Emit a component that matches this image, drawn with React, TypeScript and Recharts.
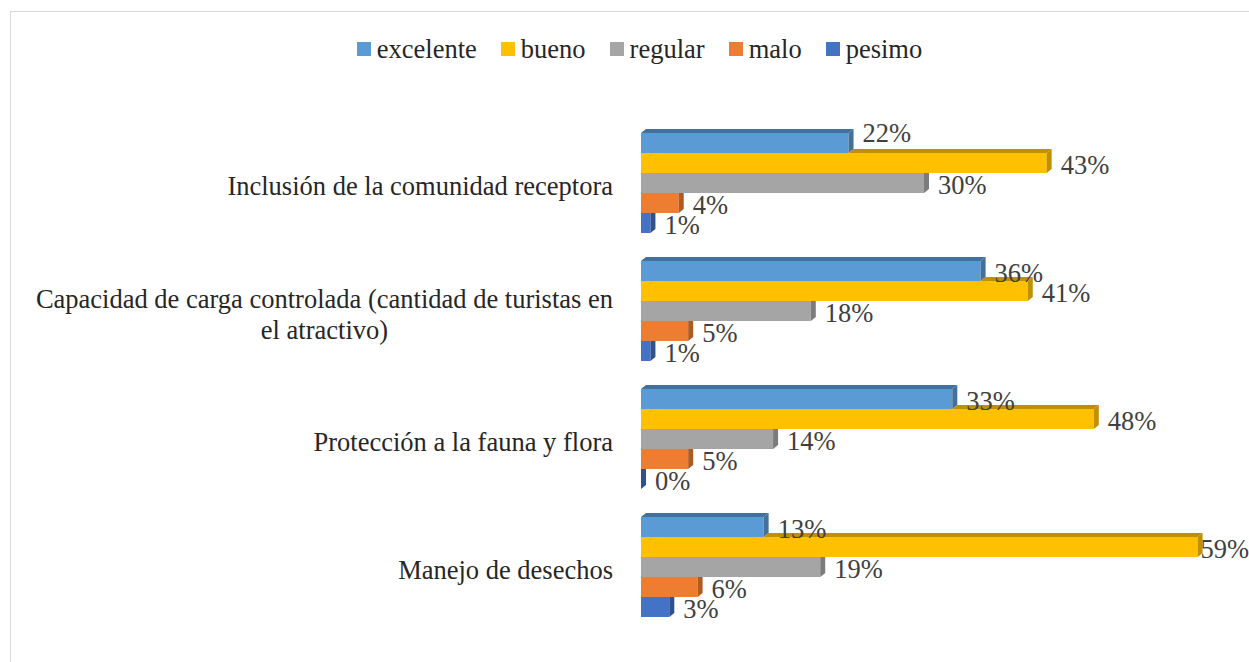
import React from 'react';
import { BarChart, Bar, XAxis, YAxis, Legend, LabelList } from 'recharts';

const categories = [
  'Inclusión de la comunidad receptora',
  'Capacidad de carga controlada (cantidad de turistas en el atractivo)',
  'Protección a la fauna y flora',
  'Manejo de desechos',
];
const excelente = [22, 36, 33, 13];
const bueno = [43, 41, 48, 59];
const regular = [30, 18, 14, 19];
const malo = [4, 5, 5, 6];
const pesimo = [1, 1, 0, 3];

const SERIES = [
  { key: 'excelente', values: excelente, color: '#5B9BD5', dark: '#41719C' },
  { key: 'bueno', values: bueno, color: '#FFC000', dark: '#BF9000' },
  { key: 'regular', values: regular, color: '#A5A5A5', dark: '#7C7C7C' },
  { key: 'malo', values: malo, color: '#ED7D31', dark: '#AE5A21' },
  { key: 'pesimo', values: pesimo, color: '#4472C4', dark: '#2F528F' },
];

const data = categories.map((name, i) => {
  const row: any = { name };
  SERIES.forEach((s) => (row[s.key] = s.values[i]));
  return row;
});

const W = 1249;
const H = 662;
const PLOT_LEFT = 641;
const MARGIN = { top: 78, right: 42, bottom: 32, left: 0 };
const X_MAX = 60;
const PX_PER_UNIT = (W - PLOT_LEFT - MARGIN.right) / X_MAX;
const DX = 5;
const DY = 4;
const FONT = '"Liberation Serif", "Times New Roman", serif';
const FS = 26.5;

let ctx: CanvasRenderingContext2D | null = null;
const measure = (t: string) => {
  if (!ctx) {
    ctx = document.createElement('canvas').getContext('2d');
    if (ctx) ctx.font = `${FS}px "Liberation Serif"`;
  }
  return ctx ? ctx.measureText(t).width : t.length * FS * 0.45;
};

const wrap = (text: string, maxW: number) => {
  const words = text.split(' ');
  const lines: string[] = [];
  let cur = '';
  words.forEach((w) => {
    const next = cur ? cur + ' ' + w : w;
    if (cur && measure(next) > maxW) {
      lines.push(cur);
      cur = w;
    } else cur = next;
  });
  if (cur) lines.push(cur);
  return lines;
};

const CategoryTick = ({ x, y, payload }: any) => {
  const lines = wrap(payload.value, 595);
  const blockW = Math.max(...lines.map(measure));
  const cx = x - blockW / 2;
  const lh = 31;
  const y0 = y - ((lines.length - 1) * lh) / 2 + 4;
  return (
    <text x={cx} y={y0} textAnchor="middle" dominantBaseline="central" fill="#262626" fontSize={FS} fontFamily={FONT}>
      {lines.map((l, i) => (
        <tspan key={i} x={cx} y={y0 + i * lh}>{l}</tspan>
      ))}
    </text>
  );
};

// bar face plus a small extruded top and side, hidden where the bar above covers it
const makeShape = (i: number) => (props: any) => {
  const { x, y, width, height, payload } = props;
  const s = SERIES[i];
  const w = Math.max(width || 0, 0);
  const wPrev = i > 0 ? payload[SERIES[i - 1].key] * PX_PER_UNIT : 0;
  const right = x + w;
  const side =
    wPrev > w
      ? `${right},${y} ${right + DX},${y} ${right + DX},${y + height - DY} ${right},${y + height}`
      : `${right},${y} ${right + DX},${y - DY} ${right + DX},${y + height - DY} ${right},${y + height}`;
  return (
    <g>
      {w > 0 && <rect x={x} y={y} width={w} height={height} fill={s.color} />}
      {wPrev < w && (
        <polygon
          points={`${x + wPrev},${y} ${x + wPrev + DX},${y - DY} ${right + DX},${y - DY} ${right},${y}`}
          fill={s.dark}
        />
      )}
      <polygon points={side} fill={s.dark} />
    </g>
  );
};

const makeLabel = (i: number) => (props: any) => {
  const { x, y, width, height, value, index } = props;
  const txt = `${value}%`;
  let lx = x + Math.max(width, 0) + 14;
  lx = Math.min(lx, W - measure(txt));
  // the first label was nudged up in the original
  const shift = i === 0 && index === 0 ? -12 : 0;
  return (
    <text x={lx} y={y + height / 2 + 2 + shift} dominantBaseline="central" fill="#404040" fontSize={FS} fontFamily={FONT}>
      {txt}
    </text>
  );
};

const LegendContent = () => (
  <div
    style={{
      height: 40,
      display: 'flex',
      alignItems: 'center',
      justifyContent: 'center',
      paddingLeft: 30,
      fontFamily: FONT,
      fontSize: FS,
      color: '#262626',
    }}
  >
    {SERIES.map((s) => (
      <div key={s.key} style={{ display: 'flex', alignItems: 'center', margin: '0 12px' }}>
        <span style={{ width: 14, height: 14, background: s.color, marginRight: 6, display: 'inline-block' }} />
        <span>{s.key}</span>
      </div>
    ))}
  </div>
);

export default function App() {
  return (
    <div style={{ position: 'absolute', left: 0, top: 0, width: W, height: H, overflow: 'hidden', background: '#fff' }}>
      <div
        style={{
          position: 'absolute',
          left: 10,
          top: 11,
          width: W + 50,
          height: H + 50,
          border: '1px solid #d9d9d9',
        }}
      />
      <div style={{ position: 'absolute', left: 0, top: 0 }}>
        <BarChart
          width={W}
          height={H}
          data={data}
          layout="vertical"
          margin={MARGIN}
          barCategoryGap={15}
          barGap={0}
        >
          <XAxis type="number" domain={[0, X_MAX]} hide />
          <YAxis
            type="category"
            dataKey="name"
            width={PLOT_LEFT}
            axisLine={false}
            tickLine={false}
            tickSize={0}
            tickMargin={28}
            tick={<CategoryTick />}
            interval={0}
          />
          <Legend
            verticalAlign="top"
            content={<LegendContent />}
            wrapperStyle={{ top: 29, left: 0, width: W, height: 40 }}
          />
          {SERIES.map((s, i) => (
            <Bar key={s.key} dataKey={s.key} fill={s.color} shape={makeShape(i)} isAnimationActive={false}>
              <LabelList dataKey={s.key} content={makeLabel(i)} />
            </Bar>
          ))}
        </BarChart>
      </div>
    </div>
  );
}
